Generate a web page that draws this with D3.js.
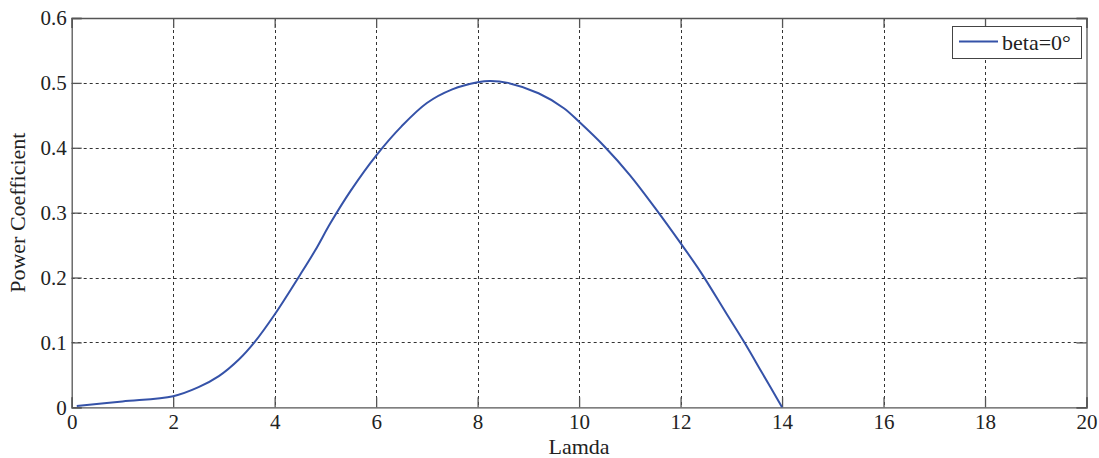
<!DOCTYPE html>
<html>
<head>
<meta charset="utf-8">
<script src="https://cdn.jsdelivr.net/npm/d3@7"></script>
<style>
  body { margin: 0; background: #fff; }
</style>
</head>
<body>
<div id="chart"></div>
<script>
// --- data -------------------------------------------------
var lamda = [0.1, 1, 2, 2.5, 2.9, 3.3, 3.6, 4.0, 4.5, 4.8, 5.1, 5.5, 6.0, 6.5, 7.0, 7.5,
             8.0, 8.25, 8.6, 9.2, 9.7, 10.0, 10.5, 11.0, 11.5, 12.0, 12.4, 12.9, 13.25, 13.6, 14.0]
var cp = [0.002, 0.009, 0.017, 0.031, 0.048, 0.074, 0.100, 0.143, 0.204, 0.242, 0.284, 0.334,
          0.388, 0.433, 0.469, 0.490, 0.501, 0.503, 0.500, 0.484, 0.461, 0.440, 0.402, 0.358,
          0.307, 0.253, 0.208, 0.145, 0.101, 0.054, 0.0]
var xTicks = [0, 2, 4, 6, 8, 10, 12, 14, 16, 18, 20]
var yTicks = [0, 0.1, 0.2, 0.3, 0.4, 0.5, 0.6]
var seriesName = "beta=0°"

var width = 1099,
    height = 458,
    margin = {top: 18, right: 12.5, bottom: 50.7, left: 71.7},
    serif = "font-family:'Liberation Serif',serif"

var svg = d3.select("#chart").append("svg")
  .attr("width", width)
  .attr("height", height)

var x = d3.scaleLinear().domain([0, 20]).range([margin.left, width - margin.right]),
    y = d3.scaleLinear().domain([0, 0.6]).range([height - margin.bottom, margin.top])

var x0 = x.range()[0], x1 = x.range()[1],
    y0 = y.range()[0], y1 = y.range()[1]

// grid
var grid = svg.append("g")
  .attr("stroke", "#333")
  .attr("stroke-width", 1)
  .attr("stroke-dasharray", "3,3")
grid.selectAll("line.gx")
  .data(xTicks.slice(1, -1))
  .enter().append("line")
    .attr("x1", d => Math.round(x(d)) + 0.5).attr("x2", d => Math.round(x(d)) + 0.5)
    .attr("y1", y1).attr("y2", y0)
grid.selectAll("line.gy")
  .data(yTicks.slice(1, -1))
  .enter().append("line")
    .attr("y1", d => Math.round(y(d)) + 0.5).attr("y2", d => Math.round(y(d)) + 0.5)
    .attr("x1", x0).attr("x2", x1)

// axes, matlab style: ticks inward on all four sides
var tick = 10
svg.append("g")
  .attr("transform", `translate(0,${y0})`)
  .call(d3.axisBottom(x).tickValues(xTicks).tickSize(-tick).tickPadding(7).tickFormat(d3.format("d")))
svg.append("g")
  .attr("transform", `translate(0,${y1})`)
  .call(d3.axisTop(x).tickValues(xTicks).tickSize(-tick).tickFormat(""))
svg.append("g")
  .attr("transform", `translate(${x0},0)`)
  .call(d3.axisLeft(y).tickValues(yTicks).tickSize(-tick).tickPadding(5).tickFormat(d => d === 0 ? "0" : d3.format(".1f")(d)))
svg.append("g")
  .attr("transform", `translate(${x1},0)`)
  .call(d3.axisRight(y).tickValues(yTicks).tickSize(-tick).tickFormat(""))

svg.selectAll(".domain").attr("stroke", "#555").attr("stroke-width", 1.3)
svg.selectAll(".tick line").attr("stroke", "#555").attr("stroke-width", 1.3)
svg.selectAll(".tick text")
  .attr("style", serif + ";font-size:21px")
  .attr("fill", "#222")

// curve
var pts = lamda.map((d, i) => [d, cp[i]])
svg.append("path")
  .datum(pts)
  .attr("fill", "none")
  .attr("stroke", "#3552a8")
  .attr("stroke-width", 2)
  .attr("d", d3.line().x(d => x(d[0])).y(d => y(d[1])).curve(d3.curveCatmullRom.alpha(0.5)))

// axis titles
svg.append("text")
  .attr("x", (x0 + x1) / 2)
  .attr("y", 454)
  .attr("text-anchor", "middle")
  .attr("style", serif + ";font-size:22px")
  .attr("fill", "#222")
  .text("Lamda")
svg.append("text")
  .attr("transform", `translate(25,${(y0 + y1) / 2}) rotate(-90)`)
  .attr("text-anchor", "middle")
  .attr("style", serif + ";font-size:22px")
  .attr("fill", "#222")
  .text("Power Coefficient")

// legend
var lg = svg.append("g")
lg.append("rect")
  .attr("x", 952.5).attr("y", 26.5)
  .attr("width", 129).attr("height", 32)
  .attr("fill", "#fff")
  .attr("stroke", "#444")
  .attr("stroke-width", 1)
lg.append("line")
  .attr("x1", 959).attr("x2", 998)
  .attr("y1", 41.5).attr("y2", 41.5)
  .attr("stroke", "#3552a8")
  .attr("stroke-width", 2)
lg.append("text")
  .attr("x", 1002)
  .attr("y", 50)
  .attr("style", serif + ";font-size:22px")
  .attr("fill", "#222")
  .text(seriesName)
</script>
</body>
</html>
